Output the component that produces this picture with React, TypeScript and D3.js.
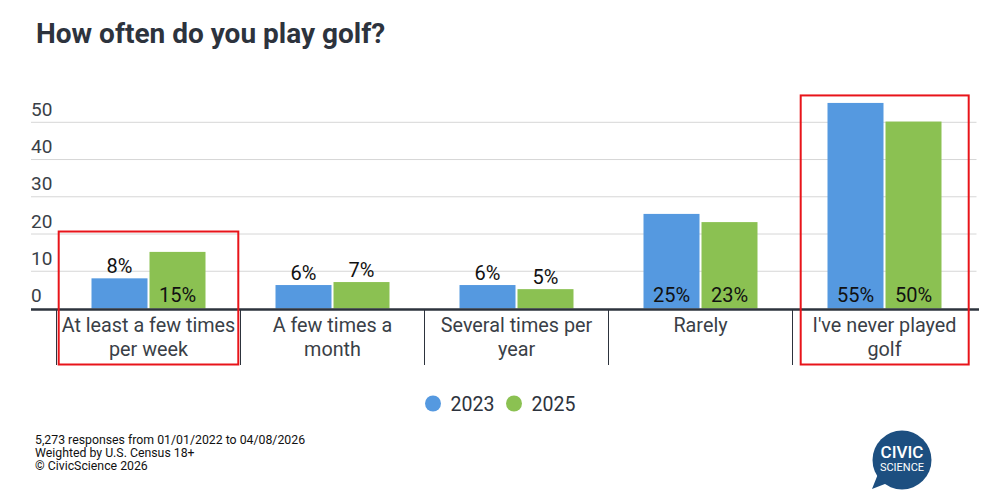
import React from "react";
import * as d3 from "d3";

const categories = [
  ["At least a few times", "per week"],
  ["A few times a", "month"],
  ["Several times per", "year"],
  ["Rarely"],
  ["I've never played", "golf"],
];
const series = ["2023", "2025"];
const values2023 = [8.1, 6.3, 6.3, 25.4, 55.2];
const values2025 = [15.2, 7.1, 5.2, 23.2, 50.2];
const labels2023 = ["8%", "6%", "6%", "25%", "55%"];
const labels2025 = ["15%", "7%", "5%", "23%", "50%"];
const yTicks = [0, 10, 20, 30, 40, 50];
const highlighted = [0, 4];
const colors = ["#5599e0", "#8bc152"];
const footer = [
  "5,273 responses from 01/01/2022 to 04/08/2026",
  "Weighted by U.S. Census 18+",
  "© CivicScience 2026",
];

const W = 988;
const H = 499;
const FONT = "Roboto, 'Noto Sans', sans-serif";

export default function App() {
  const x = d3
    .scaleBand<number>()
    .domain(categories.map((_, i) => i))
    .range([56.5, 976.5])
    .paddingInner(0)
    .paddingOuter(0);
  const y = d3.scaleLinear().domain([0, 50]).range([308.5, 122.3]);
  const barW = 56;
  const gap = 2;
  const data = [values2023, values2025];
  const labs = [labels2023, labels2025];
  const boxInset = [
    [2.2, 179.6],
    [8.2, 168],
  ];

  return (
    <svg width={W} height={H} style={{ position: "absolute", left: 0, top: 0, background: "#fff" }}>
      <rect width={W} height={H} fill="#fff" />
      <text x={36} y={42.5} fontFamily={FONT} fontWeight={700} fontSize={28} fill="#2d333d">
        How often do you play golf?
      </text>
      {yTicks.map((t) => (
        <g key={t}>
          {t > 0 && <line x1={31} x2={976.5} y1={y(t)} y2={y(t)} stroke="#d6d6d6" strokeWidth={1} />}
          <text x={31} y={y(t) - 6.5} fontFamily={FONT} fontSize={19} fill="#3a3f47">
            {t}
          </text>
        </g>
      ))}
      {categories.map((c, i) => {
        const bx = x(i)!;
        const cx = bx + x.bandwidth() / 2;
        return (
          <g key={i}>
            {series.map((s, j) => {
              const v = data[j][i];
              const left = cx - gap / 2 - barW + j * (barW + gap);
              const top = y(v);
              const inside = v >= 10;
              return (
                <g key={s}>
                  <rect x={left} y={top} width={barW} height={y(0) - top} fill={colors[j]} />
                  <text
                    x={left + barW / 2}
                    y={inside ? y(0) - 6.5 : top - 5}
                    textAnchor="middle"
                    fontFamily={FONT}
                    fontSize={20}
                    fill="#111"
                  >
                    {labs[j][i]}
                  </text>
                </g>
              );
            })}
            {c.map((line, k) => (
              <text
                key={k}
                x={cx}
                y={332 + k * 24}
                textAnchor="middle"
                fontFamily={FONT}
                fontSize={19.8}
                fill="#3a3f47"
              >
                {line}
              </text>
            ))}
          </g>
        );
      })}
      {categories.map((_, i) => {
        const xx = x(i)!;
        return <line key={i} x1={xx} x2={xx} y1={309} y2={365} stroke="#2d333d" strokeWidth={1} />;
      })}
      <line x1={31} x2={979} y1={309.5} y2={309.5} stroke="#2d333d" strokeWidth={2.5} />
      {highlighted.map((i, n) => {
        const bx = x(i)!;
        const maxV = Math.max(values2023[i], values2025[i]);
        const top = i === 0 ? y(20) - 2.5 : y(maxV) - 7.5;
        return (
          <rect
            key={i}
            x={bx + boxInset[n][0]}
            y={top}
            width={boxInset[n][1]}
            height={364.5 - top}
            fill="none"
            stroke="#e8141a"
            strokeWidth={2}
          />
        );
      })}
      {series.map((s, j) => (
        <g key={s}>
          <circle cx={433 + j * 81} cy={403.5} r={8} fill={colors[j]} />
          <text x={450.5 + j * 81} y={410.5} fontFamily={FONT} fontSize={19.5} fill="#2d333d">
            {s}
          </text>
        </g>
      ))}
      {footer.map((f, i) => (
        <text key={i} x={35} y={443.5 + i * 13.4} fontFamily={FONT} fontSize={12.3} fill="#111">
          {f}
        </text>
      ))}
      <g>
        <path d="M 878 474 L 872 489 L 890 482 Z" fill="#1d4f80" />
        <circle cx={902} cy={460} r={29.5} fill="#1d4f80" />
        <text x={902} y={458} textAnchor="middle" fontFamily={FONT} fontWeight={500} fontSize={17} fill="#fff">
          CIVIC
        </text>
        <text x={902} y={471} textAnchor="middle" fontFamily={FONT} fontSize={11} fill="#fff">
          SCIENCE
        </text>
      </g>
    </svg>
  );
}
